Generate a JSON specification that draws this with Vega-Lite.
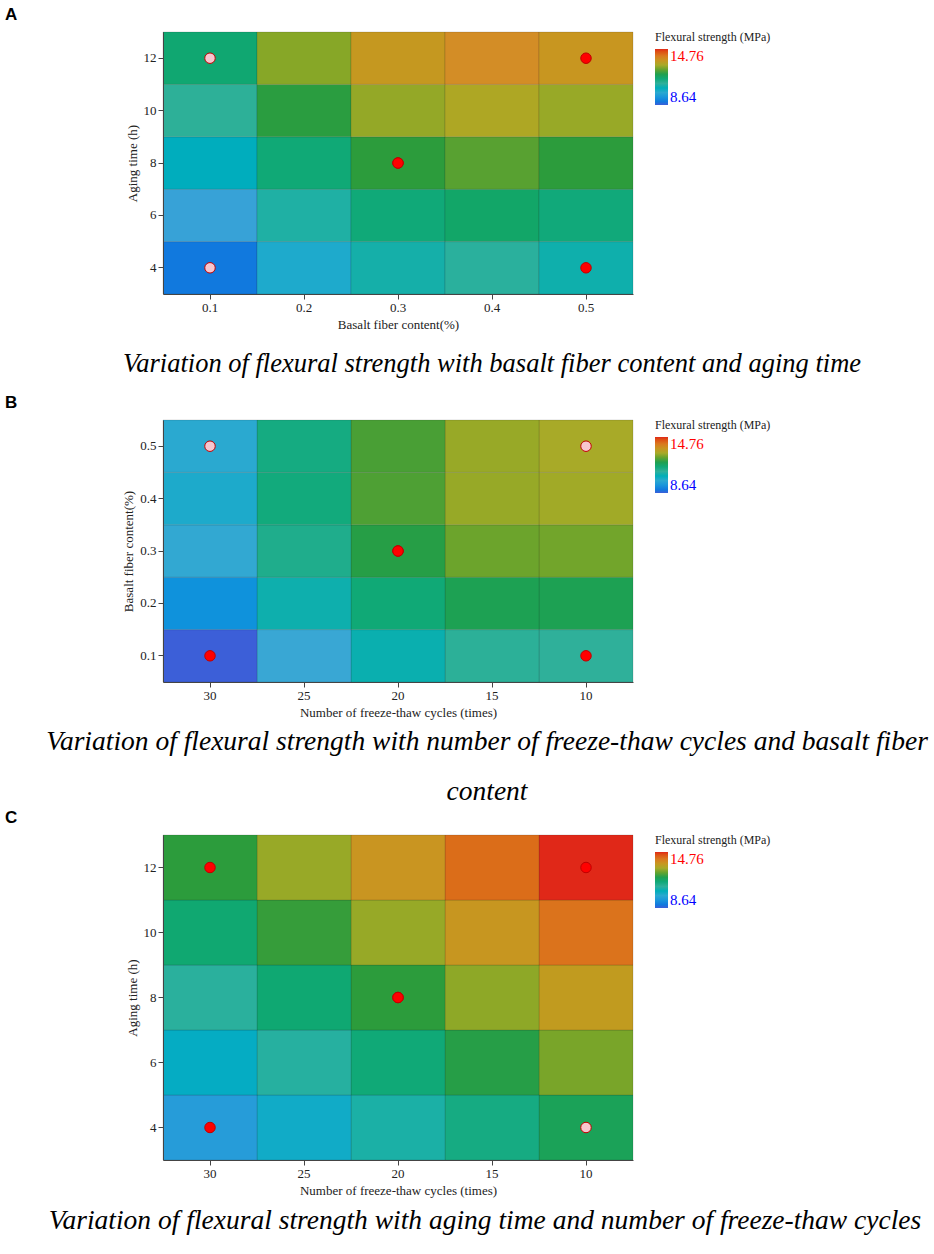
{
  "$schema": "https://vega.github.io/schema/vega-lite/v6.json",
  "background": "white",
  "padding": 5,
  "spacing": 8,
  "center": true,
  "title": {"text": "A", "anchor": "start", "frame": "group", "font": "Liberation Sans", "fontSize": 17, "fontWeight": "bold", "color": "#000", "offset": 8},
  "datasets": {
    "surfaceA": [
      {"fiber": 0.1, "aging": 4, "strength": 9.0}, {"fiber": 0.2, "aging": 4, "strength": 10.1}, {"fiber": 0.3, "aging": 4, "strength": 10.75}, {"fiber": 0.4, "aging": 4, "strength": 10.95}, {"fiber": 0.5, "aging": 4, "strength": 10.7},
      {"fiber": 0.1, "aging": 6, "strength": 9.73}, {"fiber": 0.2, "aging": 6, "strength": 10.84}, {"fiber": 0.3, "aging": 6, "strength": 11.5}, {"fiber": 0.4, "aging": 6, "strength": 11.71}, {"fiber": 0.5, "aging": 6, "strength": 11.48},
      {"fiber": 0.1, "aging": 8, "strength": 10.4}, {"fiber": 0.2, "aging": 8, "strength": 11.53}, {"fiber": 0.3, "aging": 8, "strength": 12.2}, {"fiber": 0.4, "aging": 8, "strength": 12.43}, {"fiber": 0.5, "aging": 8, "strength": 12.2},
      {"fiber": 0.1, "aging": 10, "strength": 11.03}, {"fiber": 0.2, "aging": 10, "strength": 12.16}, {"fiber": 0.3, "aging": 10, "strength": 12.85}, {"fiber": 0.4, "aging": 10, "strength": 13.09}, {"fiber": 0.5, "aging": 10, "strength": 12.88},
      {"fiber": 0.1, "aging": 12, "strength": 11.6}, {"fiber": 0.2, "aging": 12, "strength": 12.75}, {"fiber": 0.3, "aging": 12, "strength": 13.45}, {"fiber": 0.4, "aging": 12, "strength": 13.7}, {"fiber": 0.5, "aging": 12, "strength": 13.5}
    ],
    "pointsA": [
      {"fiber": 0.1, "aging": 12, "strength": 11.6, "position": "below surface"},
      {"fiber": 0.1, "aging": 4, "strength": 8.9, "position": "below surface"},
      {"fiber": 0.5, "aging": 12, "strength": 13.6, "position": "above surface"},
      {"fiber": 0.5, "aging": 4, "strength": 10.8, "position": "above surface"},
      {"fiber": 0.3, "aging": 8, "strength": 13.0, "position": "above surface"},
      {"fiber": 0.3, "aging": 8, "strength": 12.55, "position": "above surface"}
    ],
    "surfaceB": [
      {"cycles": 10, "fiber": 0.1, "strength": 11.0}, {"cycles": 10, "fiber": 0.2, "strength": 11.95}, {"cycles": 10, "fiber": 0.3, "strength": 12.6}, {"cycles": 10, "fiber": 0.4, "strength": 12.95}, {"cycles": 10, "fiber": 0.5, "strength": 13.0},
      {"cycles": 15, "fiber": 0.1, "strength": 11.04}, {"cycles": 15, "fiber": 0.2, "strength": 11.95}, {"cycles": 15, "fiber": 0.3, "strength": 12.56}, {"cycles": 15, "fiber": 0.4, "strength": 12.87}, {"cycles": 15, "fiber": 0.5, "strength": 12.88},
      {"cycles": 20, "fiber": 0.1, "strength": 10.66}, {"cycles": 20, "fiber": 0.2, "strength": 11.53}, {"cycles": 20, "fiber": 0.3, "strength": 12.1}, {"cycles": 20, "fiber": 0.4, "strength": 12.37}, {"cycles": 20, "fiber": 0.5, "strength": 12.34},
      {"cycles": 25, "fiber": 0.1, "strength": 9.86}, {"cycles": 25, "fiber": 0.2, "strength": 10.69}, {"cycles": 25, "fiber": 0.3, "strength": 11.22}, {"cycles": 25, "fiber": 0.4, "strength": 11.45}, {"cycles": 25, "fiber": 0.5, "strength": 11.38},
      {"cycles": 30, "fiber": 0.1, "strength": 8.64}, {"cycles": 30, "fiber": 0.2, "strength": 9.43}, {"cycles": 30, "fiber": 0.3, "strength": 9.92}, {"cycles": 30, "fiber": 0.4, "strength": 10.11}, {"cycles": 30, "fiber": 0.5, "strength": 10.0}
    ],
    "pointsB": [
      {"cycles": 30, "fiber": 0.5, "strength": 10.0, "position": "below surface"},
      {"cycles": 10, "fiber": 0.5, "strength": 13.0, "position": "below surface"},
      {"cycles": 10, "fiber": 0.1, "strength": 11.0, "position": "above surface"},
      {"cycles": 30, "fiber": 0.1, "strength": 8.64, "position": "above surface"},
      {"cycles": 20, "fiber": 0.3, "strength": 12.9, "position": "above surface"},
      {"cycles": 20, "fiber": 0.3, "strength": 12.4, "position": "above surface"}
    ],
    "surfaceC": [
      {"cycles": 10, "aging": 4, "strength": 11.9}, {"cycles": 10, "aging": 6, "strength": 12.65}, {"cycles": 10, "aging": 8, "strength": 13.38}, {"cycles": 10, "aging": 10, "strength": 14.08}, {"cycles": 10, "aging": 12, "strength": 14.76},
      {"cycles": 15, "aging": 4, "strength": 11.36}, {"cycles": 15, "aging": 6, "strength": 12.09}, {"cycles": 15, "aging": 8, "strength": 12.8}, {"cycles": 15, "aging": 10, "strength": 13.49}, {"cycles": 15, "aging": 12, "strength": 14.16},
      {"cycles": 20, "aging": 4, "strength": 10.8}, {"cycles": 20, "aging": 6, "strength": 11.51}, {"cycles": 20, "aging": 8, "strength": 12.2}, {"cycles": 20, "aging": 10, "strength": 12.87}, {"cycles": 20, "aging": 12, "strength": 13.53},
      {"cycles": 25, "aging": 4, "strength": 10.21}, {"cycles": 25, "aging": 6, "strength": 10.91}, {"cycles": 25, "aging": 8, "strength": 11.58}, {"cycles": 25, "aging": 10, "strength": 12.24}, {"cycles": 25, "aging": 12, "strength": 12.88},
      {"cycles": 30, "aging": 4, "strength": 9.6}, {"cycles": 30, "aging": 6, "strength": 10.29}, {"cycles": 30, "aging": 8, "strength": 10.95}, {"cycles": 30, "aging": 10, "strength": 11.59}, {"cycles": 30, "aging": 12, "strength": 12.2}
    ],
    "pointsC": [
      {"cycles": 30, "aging": 12, "strength": 12.2, "position": "above surface"},
      {"cycles": 10, "aging": 12, "strength": 14.76, "position": "above surface"},
      {"cycles": 10, "aging": 4, "strength": 11.9, "position": "below surface"},
      {"cycles": 30, "aging": 4, "strength": 9.6, "position": "above surface"},
      {"cycles": 20, "aging": 8, "strength": 12.96, "position": "above surface"},
      {"cycles": 20, "aging": 8, "strength": 12.5, "position": "above surface"}
    ]
  },
  "resolve": {"scale": {"color": "independent", "fill": "independent"}, "legend": {"color": "independent"}},
  "vconcat": [
    {
      "width": 470,
      "height": 262,
      "layer": [
        {
          "data": {"name": "surfaceA"},
          "mark": {"type": "rect", "stroke": "#1a1a1a", "strokeOpacity": 0.25, "strokeWidth": 0.6},
          "encoding": {
            "x": {"field": "fiber", "type": "ordinal", "title": "Basalt fiber content(%)"},
            "y": {"field": "aging", "type": "ordinal", "sort": "descending", "title": "Aging time (h)"},
            "color": {"field": "strength", "type": "quantitative", "title": "Flexural strength (MPa)",
              "scale": {"domain": [8.64, 9.8, 11.0, 12.2, 13.0, 13.8, 14.76], "range": ["#3c5fd8", "#3fa6d6", "#2fb09a", "#2c9c3c", "#a8aa28", "#d8882a", "#e02818"]},
              "legend": {"values": [8.64, 14.76], "format": ".2f", "encode": {"labels": {"update": {"font": {"value": "Liberation Serif"}, "fill": {"signal": "datum.value > 12 ? '#ff0000' : '#0000ff'"}}}}}}
          }
        },
        {
          "data": {"name": "pointsA"},
          "mark": {"type": "point", "shape": "circle", "filled": true, "size": 110, "stroke": "#c00000", "strokeWidth": 1, "opacity": 1},
          "encoding": {
            "x": {"field": "fiber", "type": "ordinal"},
            "y": {"field": "aging", "type": "ordinal", "sort": "descending"},
            "fill": {"field": "position", "type": "nominal", "scale": {"domain": ["above surface", "below surface"], "range": ["#ff0000", "#f7c6cf"]}, "legend": null}
          }
        }
      ]
    },
    {
      "width": 924,
      "height": 50,
      "data": {"values": [{"caption": "Variation of flexural strength with basalt fiber content and aging time"}]},
      "mark": {"type": "text", "font": "Liberation Serif", "fontStyle": "italic", "fontSize": 26.5, "color": "#000", "dx": 25},
      "encoding": {"text": {"field": "caption", "type": "nominal"}},
      "title": {"text": "B", "orient": "bottom", "anchor": "start", "frame": "group", "font": "Liberation Sans", "fontSize": 17, "fontWeight": "bold", "color": "#000", "offset": 6}
    },
    {
      "width": 470,
      "height": 262,
      "layer": [
        {
          "data": {"name": "surfaceB"},
          "mark": {"type": "rect", "stroke": "#1a1a1a", "strokeOpacity": 0.25, "strokeWidth": 0.6},
          "encoding": {
            "x": {"field": "cycles", "type": "ordinal", "sort": "descending", "title": "Number of freeze-thaw cycles (times)"},
            "y": {"field": "fiber", "type": "ordinal", "sort": "descending", "title": "Basalt fiber content(%)"},
            "color": {"field": "strength", "type": "quantitative", "title": "Flexural strength (MPa)",
              "scale": {"domain": [8.64, 9.8, 11.0, 12.2, 13.0, 13.8, 14.76], "range": ["#3c5fd8", "#3fa6d6", "#2fb09a", "#2c9c3c", "#a8aa28", "#d8882a", "#e02818"]},
              "legend": {"values": [8.64, 14.76], "format": ".2f", "encode": {"labels": {"update": {"font": {"value": "Liberation Serif"}, "fill": {"signal": "datum.value > 12 ? '#ff0000' : '#0000ff'"}}}}}}
          }
        },
        {
          "data": {"name": "pointsB"},
          "mark": {"type": "point", "shape": "circle", "filled": true, "size": 110, "stroke": "#c00000", "strokeWidth": 1, "opacity": 1},
          "encoding": {
            "x": {"field": "cycles", "type": "ordinal", "sort": "descending"},
            "y": {"field": "fiber", "type": "ordinal", "sort": "descending"},
            "fill": {"field": "position", "type": "nominal", "scale": {"domain": ["above surface", "below surface"], "range": ["#ff0000", "#f7c6cf"]}, "legend": null}
          }
        }
      ]
    },
    {
      "width": 924,
      "height": 76,
      "data": {"values": [{"caption": ["Variation of flexural strength with number of freeze-thaw cycles and basalt fiber", "content"]}]},
      "mark": {"type": "text", "font": "Liberation Serif", "fontStyle": "italic", "fontSize": 27.5, "lineHeight": 50, "color": "#000", "dx": 20, "dy": -23},
      "encoding": {"text": {"field": "caption", "type": "nominal"}},
      "title": {"text": "C", "orient": "bottom", "anchor": "start", "frame": "group", "font": "Liberation Sans", "fontSize": 17, "fontWeight": "bold", "color": "#000", "offset": 4}
    },
    {
      "width": 470,
      "height": 325,
      "layer": [
        {
          "data": {"name": "surfaceC"},
          "mark": {"type": "rect", "stroke": "#1a1a1a", "strokeOpacity": 0.25, "strokeWidth": 0.6},
          "encoding": {
            "x": {"field": "cycles", "type": "ordinal", "sort": "descending", "title": "Number of freeze-thaw cycles (times)"},
            "y": {"field": "aging", "type": "ordinal", "sort": "descending", "title": "Aging time (h)"},
            "color": {"field": "strength", "type": "quantitative", "title": "Flexural strength (MPa)",
              "scale": {"domain": [8.64, 9.8, 11.0, 12.2, 13.0, 13.8, 14.76], "range": ["#3c5fd8", "#3fa6d6", "#2fb09a", "#2c9c3c", "#a8aa28", "#d8882a", "#e02818"]},
              "legend": {"values": [8.64, 14.76], "format": ".2f", "encode": {"labels": {"update": {"font": {"value": "Liberation Serif"}, "fill": {"signal": "datum.value > 12 ? '#ff0000' : '#0000ff'"}}}}}}
          }
        },
        {
          "data": {"name": "pointsC"},
          "mark": {"type": "point", "shape": "circle", "filled": true, "size": 110, "stroke": "#c00000", "strokeWidth": 1, "opacity": 1},
          "encoding": {
            "x": {"field": "cycles", "type": "ordinal", "sort": "descending"},
            "y": {"field": "aging", "type": "ordinal", "sort": "descending"},
            "fill": {"field": "position", "type": "nominal", "scale": {"domain": ["above surface", "below surface"], "range": ["#ff0000", "#f7c6cf"]}, "legend": null}
          }
        }
      ]
    },
    {
      "width": 924,
      "height": 32,
      "data": {"values": [{"caption": "Variation of flexural strength with aging time and number of freeze-thaw cycles"}]},
      "mark": {"type": "text", "font": "Liberation Serif", "fontStyle": "italic", "fontSize": 27.5, "color": "#000", "dx": 18},
      "encoding": {"text": {"field": "caption", "type": "nominal"}}
    }
  ],
  "config": {
    "view": {"stroke": null},
    "axis": {"labelFont": "Liberation Serif", "titleFont": "Liberation Serif", "labelFontSize": 13, "titleFontSize": 13, "titleFontWeight": "normal", "labelColor": "#222", "titleColor": "#222", "domainColor": "#444", "tickColor": "#444", "labelAngle": 0},
    "legend": {"gradientLength": 56, "gradientThickness": 13, "labelFont": "Liberation Serif", "labelFontSize": 15, "titleFont": "Liberation Serif", "titleFontSize": 12, "titleFontWeight": "normal", "titleColor": "#222", "offset": 22}
  }
}
